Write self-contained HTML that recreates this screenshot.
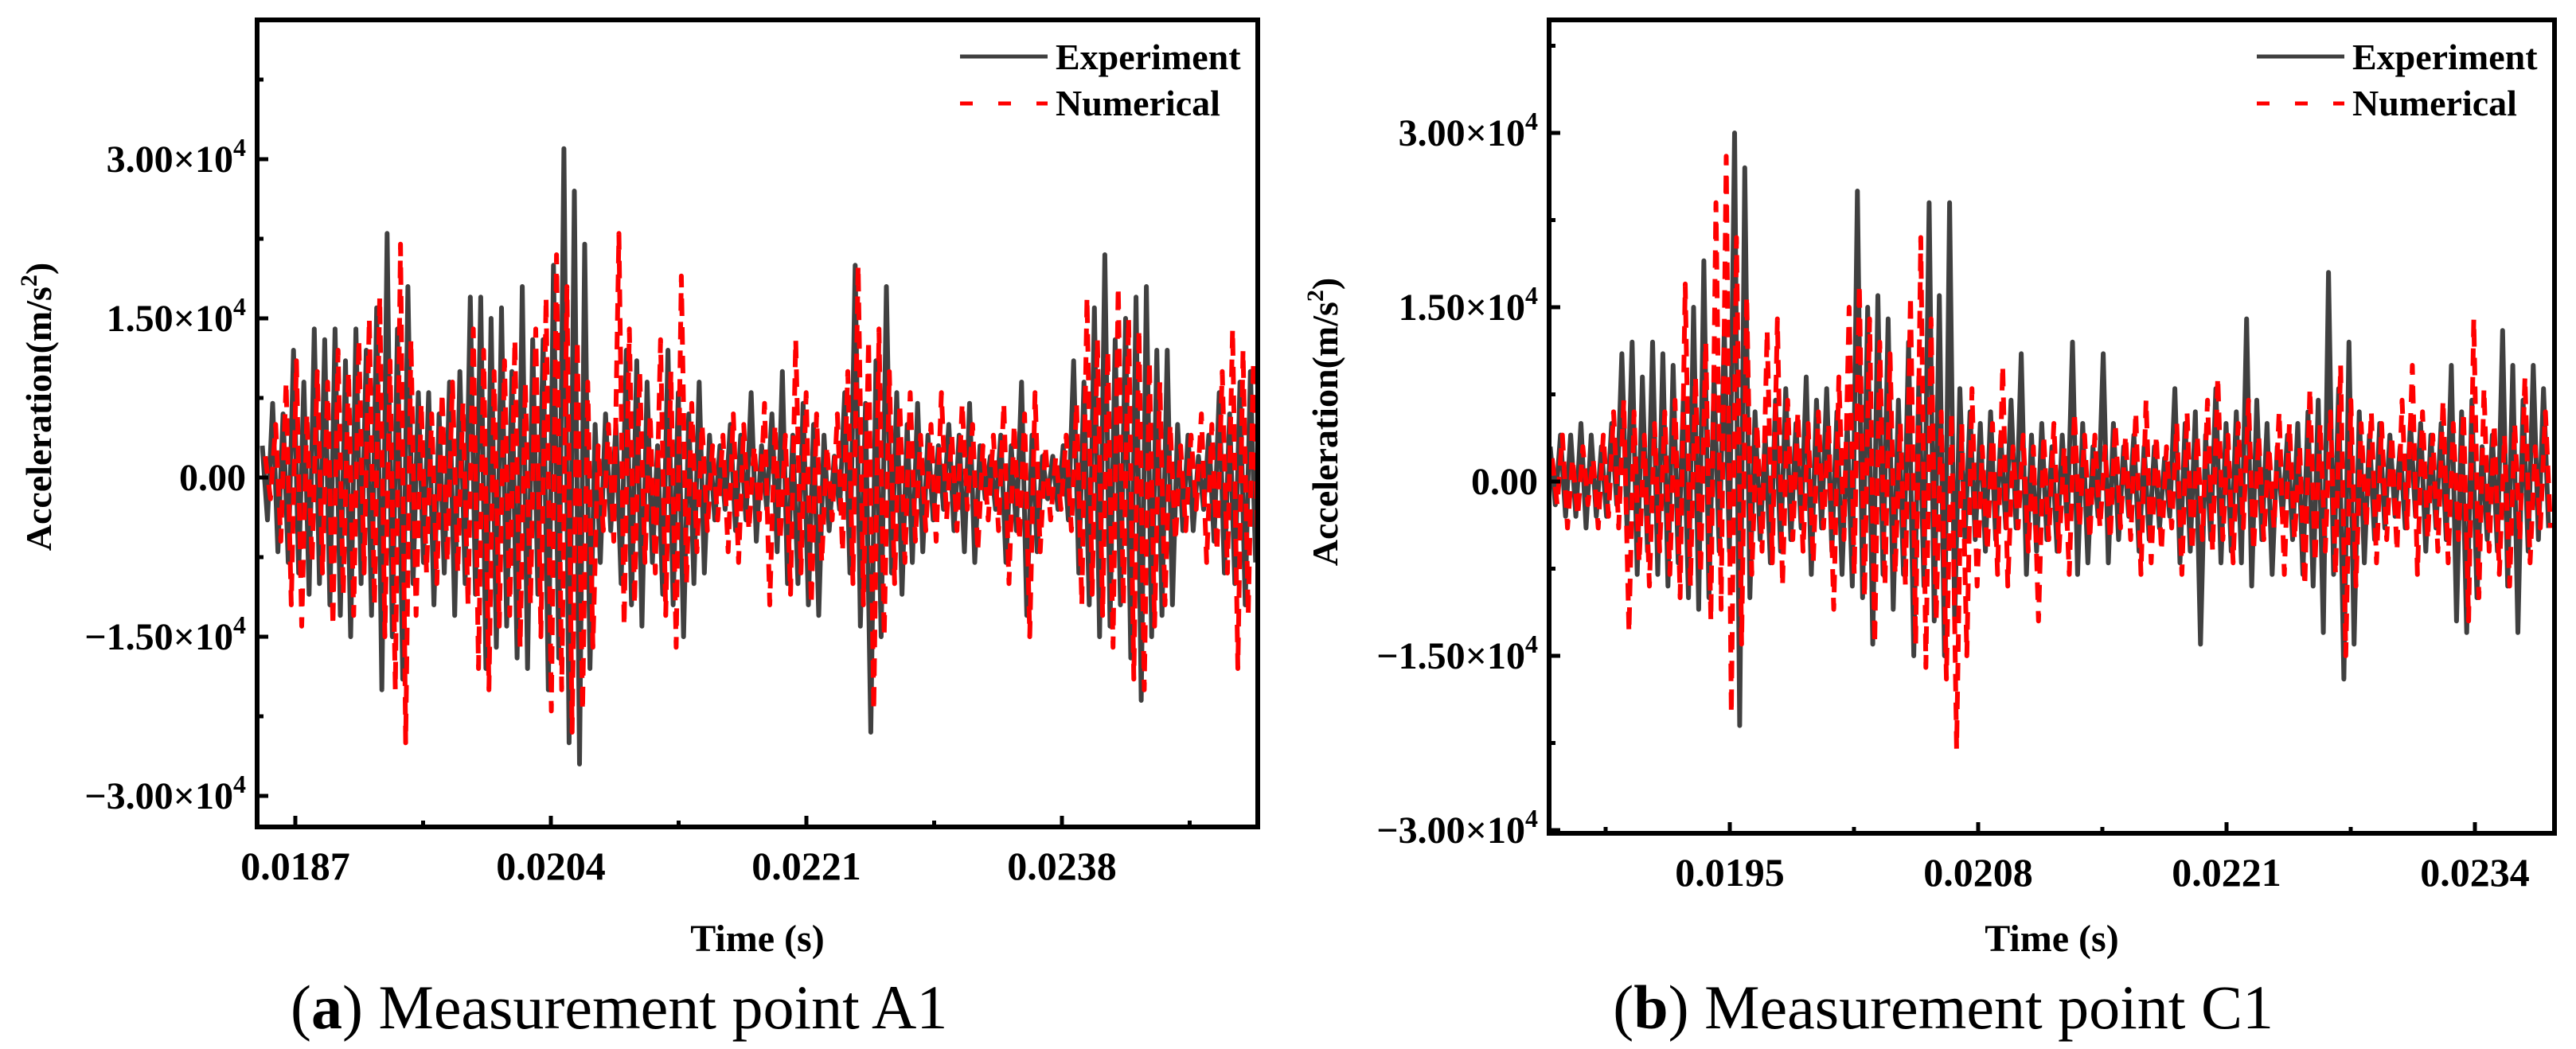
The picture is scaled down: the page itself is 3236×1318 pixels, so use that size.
<!DOCTYPE html>
<html><head><meta charset="utf-8"><style>
html,body{margin:0;padding:0;background:#fff;}
svg{display:block;}
text{font-family:"Liberation Serif","Times New Roman",serif;}
</style></head><body>
<svg id="fig" width="3236" height="1318" viewBox="0 0 3236 1318" xmlns="http://www.w3.org/2000/svg"></svg>
<script>
// ---- Panel (a) data: alternating peak/trough values (x1000 m/s^2) ----
const aXTicks = [0.0187, 0.0204, 0.0221, 0.0238];
const aXTickLabels = ["0.0187", "0.0204", "0.0221", "0.0238"];
const aYTicks = [30000, 15000, 0, -15000, -30000];
const aYTickLabels = ["3.00", "1.50", "0.00", "\u22121.50", "\u22123.00"];
const aExpStart = 0.01848;
const aExpStep = 0.0000346;
const aExp = [3,-4,7,-7,6,-8,12,-9,9,-11,14,-10,13,-12,14,-13,11,-15,14,-10,12,-13,16,-20,23,-15,14,-19,18,-10,8,-8,8,-12,6,-9,9,-13,10,-10,17,-11,17,-18,15,-16,16,-14,10,-17,18,-18,13,-11,13,-20,20,-17,31,-25,27,-27,22,-18,5,-8,6,-5,5,-10,12,-12,11,-14,9,-8,3,-11,12,-12,8,-15,6,-10,9,-9,4,-4,3,-3,5,-5,4,-4,8,-6,3,-3,6,-7,10,-10,4,-10,7,-12,5,-13,4,-5,2,-3,8,-9,20,-14,7,-24,11,-15,18,-9,8,-11,5,-8,7,-7,4,-4,3,-3,5,-5,4,-7,7,-8,3,-2,2,-3,4,-8,3,-5,9,-13,4,-7,2,-2,2,-3,3,-4,11,-9,9,-12,16,-15,21,-14,13,-12,15,-17,17,-21,18,-15,12,-13,12,-12,5,-5,4,-5,2,-3,4,-6,8,-9,6,-10,9,-12,10,-8];
const aNumStart = 0.01850;
const aNumStep = 0.0000346;
const aNum = [2,-2,5,-6,9,-12,11,-14,6,-8,10,-9,9,-14,12,-11,10,-13,13,-9,15,-12,17,-15,11,-20,22,-25,13,-13,7,-9,6,-10,8,-8,9,-9,7,-12,14,-18,12,-20,10,-14,11,-13,13,-16,9,-12,14,-15,17,-22,21,-20,18,-24,13,-22,9,-16,3,-5,5,-6,23,-14,14,-12,10,-8,6,-9,13,-13,10,-16,19,-10,7,-7,5,-5,3,-4,4,-7,6,-8,5,-5,3,-4,7,-12,5,-6,4,-11,13,-9,8,-12,6,-8,3,-4,6,-7,10,-10,20,-12,13,-22,14,-15,10,-10,7,-8,8,-6,4,-5,5,-6,8,-4,4,-5,7,-3,5,-7,3,-4,4,-5,7,-10,5,-6,6,-15,8,-7,3,-4,2,-3,4,-5,7,-12,17,-11,13,-13,12,-16,18,-12,15,-19,14,-20,11,-14,9,-12,5,-6,3,-5,4,-3,6,-8,5,-7,10,-9,14,-18,12,-13,11,-10];

// ---- Panel (b) data ----
const bXTicks = [0.0195, 0.0208, 0.0221, 0.0234];
const bXTickLabels = ["0.0195", "0.0208", "0.0221", "0.0234"];
const bYTicks = [30000, 15000, 0, -15000, -30000];
const bYTickLabels = ["3.00", "1.50", "0.00", "\u22121.50", "\u22123.00"];
const bExpStart = 0.01856;
const bExpStep = 0.0000268;
const bExp = [3,-2,4,-3,4,-3,5,-4,4,-3,3,-3,5,-2,11,-4,12,-8,9,-6,12,-8,11,-9,10,-7,7,-10,15,-11,19,-10,9,-6,13,-6,30,-21,27,-10,6,-5,4,-7,7,-6,8,-5,5,-4,9,-8,7,-4,8,-6,6,-8,5,-9,25,-10,15,-14,16,-8,14,-11,7,-8,12,-15,9,-9,24,-12,16,-15,24,-12,8,-5,6,-5,5,-6,6,-5,4,-4,7,-4,11,-8,4,-6,5,-5,3,-6,4,-4,12,-8,5,-7,3,-3,11,-7,5,-5,3,-3,4,-6,3,-5,3,-4,2,-3,8,-7,5,-6,6,-14,4,-5,8,-7,5,-6,6,-7,14,-9,7,-5,5,-8,3,-3,4,-5,5,-8,6,-9,7,-13,18,-8,8,-17,12,-14,6,-7,4,-5,5,-4,4,-3,3,-4,5,-3,5,-6,4,-4,5,-5,10,-12,6,-13,7,-10,3,-5,4,-6,13,-9,10,-13,7,-6,10,-5,8,-4];
const bNumStart = 0.01857;
const bNumStep = 0.0000268;
const bNum = [2,-2,4,-4,2,-3,3,-2,2,-4,4,-3,6,-4,7,-13,6,-7,4,-9,5,-6,6,-8,7,-10,17,-9,9,-8,12,-12,24,-11,28,-20,21,-14,16,-8,5,-6,13,-7,14,-9,7,-5,6,-6,5,-7,6,-4,5,-11,9,-5,15,-8,17,-10,14,-14,12,-9,11,-8,5,-9,16,-14,21,-16,14,-12,6,-17,6,-23,5,-15,8,-9,3,-6,5,-8,10,-9,3,-4,4,-6,3,-12,4,-5,5,-6,3,-8,6,-4,4,-5,4,-4,3,-5,5,-4,4,-5,6,-8,7,-7,4,-6,3,-4,5,-8,6,-6,4,-5,7,-6,9,-5,4,-7,5,-4,7,-6,4,-5,3,-4,6,-8,5,-5,3,-9,8,-7,5,-6,6,-8,10,-15,7,-9,5,-4,6,-7,5,-5,4,-6,7,-4,10,-8,6,-5,4,-6,7,-7,5,-5,6,-12,14,-10,8,-6,5,-8,4,-9,5,-5,9,-7,3,-4,6,-4];

const NS = "http://www.w3.org/2000/svg";
const svg = document.getElementById('fig');
function mk(tag, attrs, parent) {
  const e = document.createElementNS(NS, tag);
  for (const k in attrs) e.setAttribute(k, attrs[k]);
  (parent || svg).appendChild(e);
  return e;
}

function panel(cfg) {
  const g = mk('g', {});
  
  
  const L = cfg.left, R = cfg.right, T = cfg.top, B = cfg.bottom;
  const xs = t => cfg.x0px + (t - cfg.x0) / cfg.xStep * cfg.xStepPx;
  const ys = v => cfg.zeroPx - v / 15000 * cfg.yStepPx;

  const cid = 'clip-' + cfg.name;
  const defs = mk('defs', {}, g);
  const cp = mk('clipPath', { id: cid }, defs);
  mk('rect', { x: L, y: T, width: R - L, height: B - T }, cp);

  function series(start, step, vals, color, dash, nm) {
    let d = '';
    for (let i = 0; i < vals.length; i++) {
      const x = xs(start + i * step), y = ys(vals[i] * 1000);
      d += (i ? 'L' : 'M') + x.toFixed(1) + ' ' + y.toFixed(1);
    }
    const p = mk('path', { d: d, fill: 'none', stroke: color, 'stroke-width': 6, 'stroke-linejoin': 'round', 'clip-path': 'url(#' + cid + ')' }, g);
    if (dash) p.setAttribute('stroke-dasharray', dash);
    
    
  }
  series(cfg.expStart, cfg.expStep, cfg.exp, '#404040', null, 'experiment-line');
  series(cfg.numStart, cfg.numStep, cfg.num, '#ff0000', '22 14', 'numerical-line');

  const fr = mk('rect', { x: L, y: T, width: R - L, height: B - T, fill: 'none', stroke: '#000', 'stroke-width': 6 }, g);
  
  

  const xstep = cfg.xStep;
  for (let k = -2; k < 12; k++) {
    const t = cfg.xTicks[0] + k * xstep / 2;
    const x = xs(t);
    if (x < L + 4 || x > R - 4) continue;
    const major = k % 2 === 0;
    const tk = mk('line', { x1: x, x2: x, y1: B, y2: B - (major ? 14 : 8), stroke: '#000', 'stroke-width': 5 }, g);
    
    
  }
  cfg.xTicks.forEach((t, i) => {
    const tx = mk('text', { x: xs(t), y: B + 66, 'text-anchor': 'middle', 'font-size': 50, 'font-weight': 'bold' }, g);
    tx.textContent = cfg.xTickLabels[i];
    
    
  });
  for (let k = -6; k <= 6; k++) {
    const v = k * 7500, y = ys(v);
    if (y < T + 4 || y > B - 4) continue;
    const major = k % 2 === 0;
    const tk = mk('line', { x1: L, x2: L + (major ? 14 : 8), y1: y, y2: y, stroke: '#000', 'stroke-width': 5 }, g);
    
    
  }
  cfg.yTicks.forEach((v, i) => {
    const y = ys(v);
    const tx = mk('text', { x: L - 14, y: y + 16, 'text-anchor': 'end', 'font-size': 48, 'font-weight': 'bold' }, g);
    
    
    if (v === 0) { tx.textContent = cfg.yTickLabels[i]; return; }
    const a = mk('tspan', {}, tx); a.textContent = cfg.yTickLabels[i] + '\u00d710';
    const s = mk('tspan', { dy: -20, 'font-size': 32 }, tx); s.textContent = '4';
  });
  const yt = mk('text', { x: 0, y: 0, transform: 'translate(' + cfg.yTitleX + ',' + cfg.yTitleY + ') rotate(-90)', 'text-anchor': 'middle', 'font-size': 46, 'font-weight': 'bold' }, g);
  
  
  const y1 = mk('tspan', {}, yt); y1.textContent = 'Acceleration(m/s';
  const y2 = mk('tspan', { dy: -18, 'font-size': 30 }, yt); y2.textContent = '2';
  const y3 = mk('tspan', { dy: 18 }, yt); y3.textContent = ')';
  const xt = mk('text', { x: (L + R) / 2, y: 1195, 'text-anchor': 'middle', 'font-size': 48, 'font-weight': 'bold' }, g);
  xt.textContent = 'Time (s)';
  
  

  const lg = mk('g', {}, g);
  
  
  const lx = R - 374;
  const l1 = mk('line', { x1: lx, x2: lx + 110, y1: 71, y2: 71, stroke: '#404040', 'stroke-width': 5 }, lg);
  
  
  const t1 = mk('text', { x: lx + 120, y: 87, 'font-size': 46, 'font-weight': 'bold' }, lg);
  t1.textContent = 'Experiment';
  
  
  const l2 = mk('line', { x1: lx, x2: lx + 110, y1: 130, y2: 130, stroke: '#ff0000', 'stroke-width': 5, 'stroke-dasharray': '16 32' }, lg);
  
  
  const t2 = mk('text', { x: lx + 120, y: 145, 'font-size': 46, 'font-weight': 'bold' }, lg);
  t2.textContent = 'Numerical';
  
  

  const cap = mk('text', { x: cfg.capX, y: 1292, 'text-anchor': cfg.capAnchor, 'font-size': 78 }, svg);
  
  
  const c1 = mk('tspan', {}, cap); c1.textContent = '(';
  const c2 = mk('tspan', { 'font-weight': 'bold' }, cap); c2.textContent = cfg.capLetter;
  const c3 = mk('tspan', {}, cap); c3.textContent = ') ' + cfg.capText;
}

panel({ name: 'panel-a', left: 323, right: 1580, top: 25, bottom: 1039,
  x0: 0.0187, x0px: 371, xStep: 0.0017, xStepPx: 321, zeroPx: 600, yStepPx: 200,
  xTicks: aXTicks, xTickLabels: aXTickLabels, yTicks: aYTicks, yTickLabels: aYTickLabels,
  expStart: aExpStart, expStep: aExpStep, exp: aExp, numStart: aNumStart, numStep: aNumStep, num: aNum,
  yTitleX: 64, yTitleY: 511, capX: 365, capAnchor: 'start', capLetter: 'a', capText: 'Measurement point A1' });
panel({ name: 'panel-b', left: 1946, right: 3209, top: 25, bottom: 1047,
  x0: 0.0195, x0px: 2173, xStep: 0.0013, xStepPx: 312, zeroPx: 605, yStepPx: 219,
  xTicks: bXTicks, xTickLabels: bXTickLabels, yTicks: bYTicks, yTickLabels: bYTickLabels,
  expStart: bExpStart, expStep: bExpStep, exp: bExp, numStart: bNumStart, numStep: bNumStep, num: bNum,
  yTitleX: 1680, yTitleY: 530, capX: 2856, capAnchor: 'end', capLetter: 'b', capText: 'Measurement point C1' });
</script>
</body></html>
